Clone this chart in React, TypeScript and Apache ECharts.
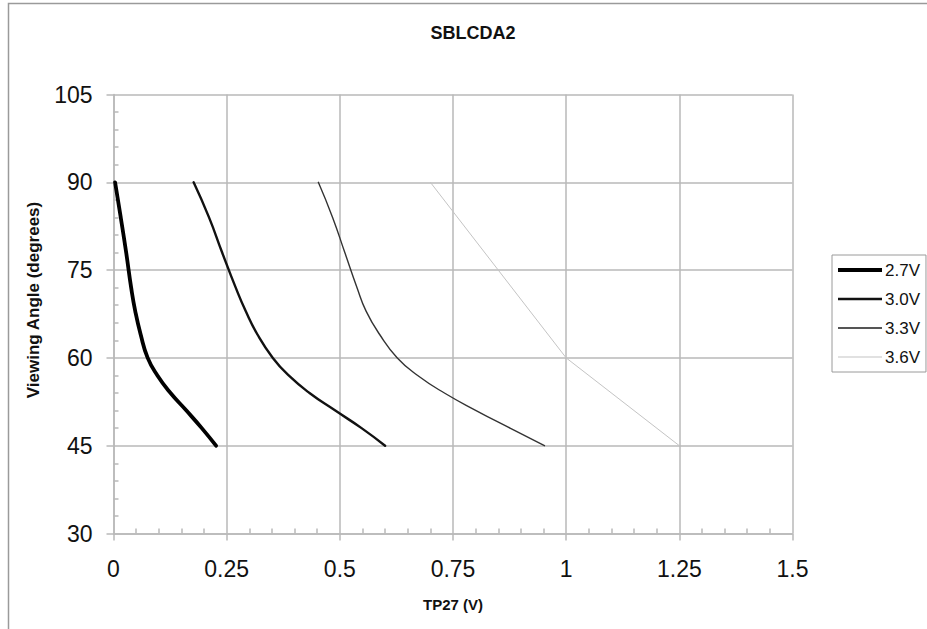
import React, { useEffect, useRef } from "react";
import * as echarts from "echarts";

const chartTitle = "SBLCDA2";
const xTitle = "TP27 (V)";
const yTitle = "Viewing Angle (degrees)";
const seriesNames = ["2.7V", "3.0V", "3.3V", "3.6V"];

// viewing angle (deg) for the smooth curves
const angles = [90, 84, 78, 72, 68, 64, 60, 57, 54, 51, 48, 45];
const v27 = [0.0035, 0.016, 0.028, 0.039, 0.048, 0.06, 0.0755, 0.097, 0.126, 0.161, 0.195, 0.2265];
const v30 = [0.177, 0.211, 0.24, 0.27, 0.292, 0.318, 0.352, 0.387, 0.433, 0.49, 0.548, 0.6];
const v33 = [0.4525, 0.484, 0.511, 0.538, 0.558, 0.588, 0.627, 0.672, 0.731, 0.801, 0.876, 0.952];
// 3.6V is straight segments
const angles36 = [90, 60, 45];
const v36 = [0.7, 1.0, 1.25];

const xMin = 0, xMax = 1.5, xStep = 0.25;
const yMin = 30, yMax = 105, yStep = 15;

const FONT = "'Liberation Sans', Arial, Helvetica, sans-serif";
const GRID_COLOR = "#b9b9b9";

function pairs(xs: number[], ys: number[]) {
  return xs.map((x, i) => [x, ys[i]]);
}

export default function App() {
  const ref = useRef<HTMLDivElement>(null);
  useEffect(() => {
    if (!ref.current) return;
    const chart = echarts.init(ref.current, null, { renderer: "svg" });
    const styles = [
      { color: "#000000", width: 3.8 },
      { color: "#111111", width: 2.4 },
      { color: "#333333", width: 1.4 },
      { color: "#c4c4c4", width: 1 },
    ];
    const legendIcon = [
      { h: 4, color: "#000000" },
      { h: 2.6, color: "#111111" },
      { h: 2.2, color: "#555555" },
      { h: 1, color: "#c4c4c4" },
    ];
    const datas = [pairs(v27, angles), pairs(v30, angles), pairs(v33, angles), pairs(v36, angles36)];
    const option: any = {
      animation: false,
      backgroundColor: "#ffffff",
      textStyle: { fontFamily: FONT },
      grid: { left: 113.5, right: 134.5, top: 94.5, bottom: 95.5, containLabel: false },
      legend: {
        orient: "vertical",
        left: 832,
        top: 255,
        padding: [5, 6, 5, 6],
        itemWidth: 44,
        itemHeight: 14,
        itemGap: 9,
        borderColor: "#9a9a9a",
        borderWidth: 1,
        symbolKeepAspect: true,
        data: seriesNames.map((name, i) => ({
          name,
          icon: `path://M0,0H44V${legendIcon[i].h}H0Z`,
          itemStyle: { color: legendIcon[i].color, borderWidth: 0 },
        })),
        textStyle: { fontFamily: FONT, fontSize: 17, color: "#111", lineHeight: 20, padding: [0, 0, 0, -2] },
      },
      xAxis: [
        {
          type: "value",
          position: "bottom",
          min: xMin,
          max: xMax,
          interval: xStep,
          name: xTitle,
          nameLocation: "middle",
          nameGap: 63,
          nameTextStyle: { fontFamily: FONT, fontSize: 15, fontWeight: "bold", color: "#111" },
          axisLine: { show: true, lineStyle: { color: GRID_COLOR, width: 1.5 } },
          axisTick: { show: true, inside: false, length: 7, lineStyle: { color: GRID_COLOR, width: 1.5 } },
          axisLabel: { fontFamily: FONT, fontSize: 23, color: "#111", margin: 24, showMinLabel: true, showMaxLabel: true },
          splitLine: { show: true, lineStyle: { color: GRID_COLOR, width: 1.5 } },
        },
        {
          type: "value",
          position: "bottom",
          min: xMin,
          max: xMax,
          interval: xStep,
          axisLine: { show: false },
          axisTick: { show: false, inside: true },
          minorTick: { show: true, splitNumber: 5, length: 5, lineStyle: { color: GRID_COLOR, width: 1.5 } },
          axisLabel: { show: false },
          splitLine: { show: false },
        },
      ],
      yAxis: [
        {
          type: "value",
          position: "left",
          min: yMin,
          max: yMax,
          interval: yStep,
          axisLine: { show: true, lineStyle: { color: GRID_COLOR, width: 1.5 } },
          axisTick: { show: true, inside: false, length: 7, lineStyle: { color: GRID_COLOR, width: 1.5 } },
          axisLabel: { fontFamily: FONT, fontSize: 23, color: "#111", margin: 21 },
          splitLine: { show: true, lineStyle: { color: GRID_COLOR, width: 1.5 } },
        },
        {
          type: "value",
          position: "left",
          min: yMin,
          max: yMax,
          interval: yStep,
          axisLine: { show: false },
          axisTick: { show: false, inside: true },
          minorTick: { show: true, splitNumber: 5, length: 5, lineStyle: { color: GRID_COLOR, width: 1.5 } },
          axisLabel: { show: false },
          splitLine: { show: false },
        },
      ],
      series: seriesNames.map((name, i) => ({
        name,
        type: "line",
        xAxisIndex: 0,
        yAxisIndex: 0,
        data: datas[i],
        smooth: i === 3 ? false : 0.5,
        symbol: "none",
        showSymbol: false,
        color: styles[i].color,
        lineStyle: { color: styles[i].color, width: styles[i].width, cap: "round", join: "round" },
        z: 10 - i,
      })),
      graphic: [
        {
          type: "rect",
          shape: { x: 8.5, y: 3.5, width: 1000, height: 1000 },
          style: { fill: "none", stroke: "#9a9a9a", lineWidth: 1.5 },
          silent: true,
          z: -1,
        },
        {
          type: "text",
          x: 473,
          y: 33,
          style: { text: chartTitle, font: `bold 18px ${FONT}`, fill: "#111", align: "center", verticalAlign: "middle" },
        },
        {
          type: "text",
          x: 33,
          y: 300,
          rotation: Math.PI / 2,
          style: { text: yTitle, font: `bold 17px ${FONT}`, fill: "#111", align: "center", verticalAlign: "middle" },
        },
      ],
    };
    chart.setOption(option);
    return () => chart.dispose();
  }, []);
  return (
    <div
      ref={ref}
      style={{ position: "fixed", left: 0, top: 0, width: 927, height: 629, background: "#fff" }}
    />
  );
}
